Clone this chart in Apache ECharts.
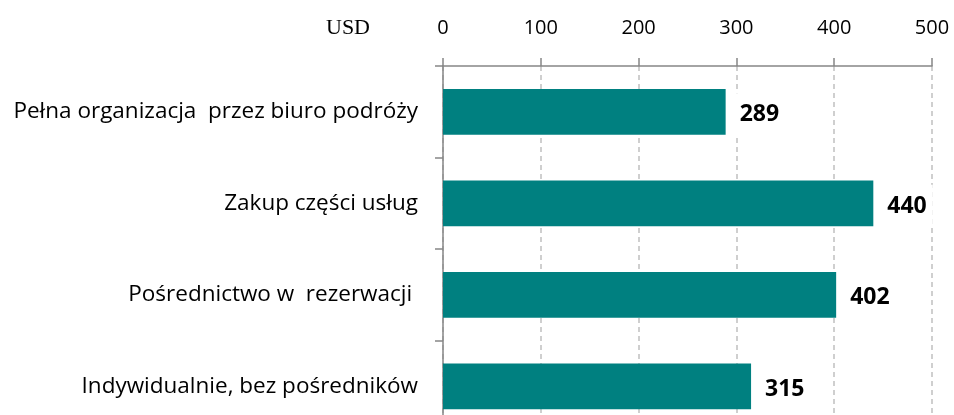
<!DOCTYPE html>
<html><head><meta charset="utf-8">
<script src="https://cdn.jsdelivr.net/npm/echarts@6/dist/echarts.min.js"></script>
<style>html,body{margin:0;padding:0;background:#fff}#c{width:954px;height:415px}</style>
</head><body><div id="c"></div>
<script>
const categories = ["Pełna organizacja  przez biuro podróży", "Zakup części usług", "Pośrednictwo w  rezerwacji ", "Indywidualnie, bez pośredników"];
const values = [289, 440, 402, 315];
const axisMin = 0, axisMax = 500, axisStep = 100;
const unitLabel = "USD";

const chart = echarts.init(document.getElementById('c'), null, {renderer: 'canvas'});
chart.setOption({
  animation: false,
  grid: {left: 443, right: 22, top: 66, height: 366, containLabel: false, outerBoundsMode: 'none'},
  xAxis: {
    type: 'value', position: 'top', min: axisMin, max: axisMax, interval: axisStep,
    axisLine: {show: true, lineStyle: {color: '#868686', width: 1.5}},
    axisTick: {show: true, length: 8, lineStyle: {color: '#868686', width: 1.5}},
    axisLabel: {margin: 28, color: '#000', fontFamily: 'Open Sans', fontSize: 20},
    splitLine: {show: true, lineStyle: {color: '#c0c0c0', type: [5, 4], width: 1.5}}
  },
  yAxis: {
    type: 'category', data: categories, inverse: true,
    axisLine: {show: true, lineStyle: {color: '#868686', width: 1.5}},
    axisTick: {show: true, length: 8, lineStyle: {color: '#868686', width: 1.5}},
    axisLabel: {margin: 25, color: '#000', fontFamily: 'Open Sans', fontSize: 22.5}
  },
  graphic: [{type: 'text', left: 326, top: 17, style: {text: unitLabel, fontFamily: 'Liberation Serif', fontSize: 22, fill: '#000'}}],
  series: [{
    type: 'bar', data: values, barWidth: '50%',
    itemStyle: {color: '#008080'},
    label: {show: true, position: 'right', distance: 8, offset: [0, 3], color: '#000', fontWeight: 'bold', fontFamily: 'Open Sans', fontSize: 23,
      backgroundColor: '#fff', padding: [10, 6, 10, 6]}
  }]
});
</script></body></html>
